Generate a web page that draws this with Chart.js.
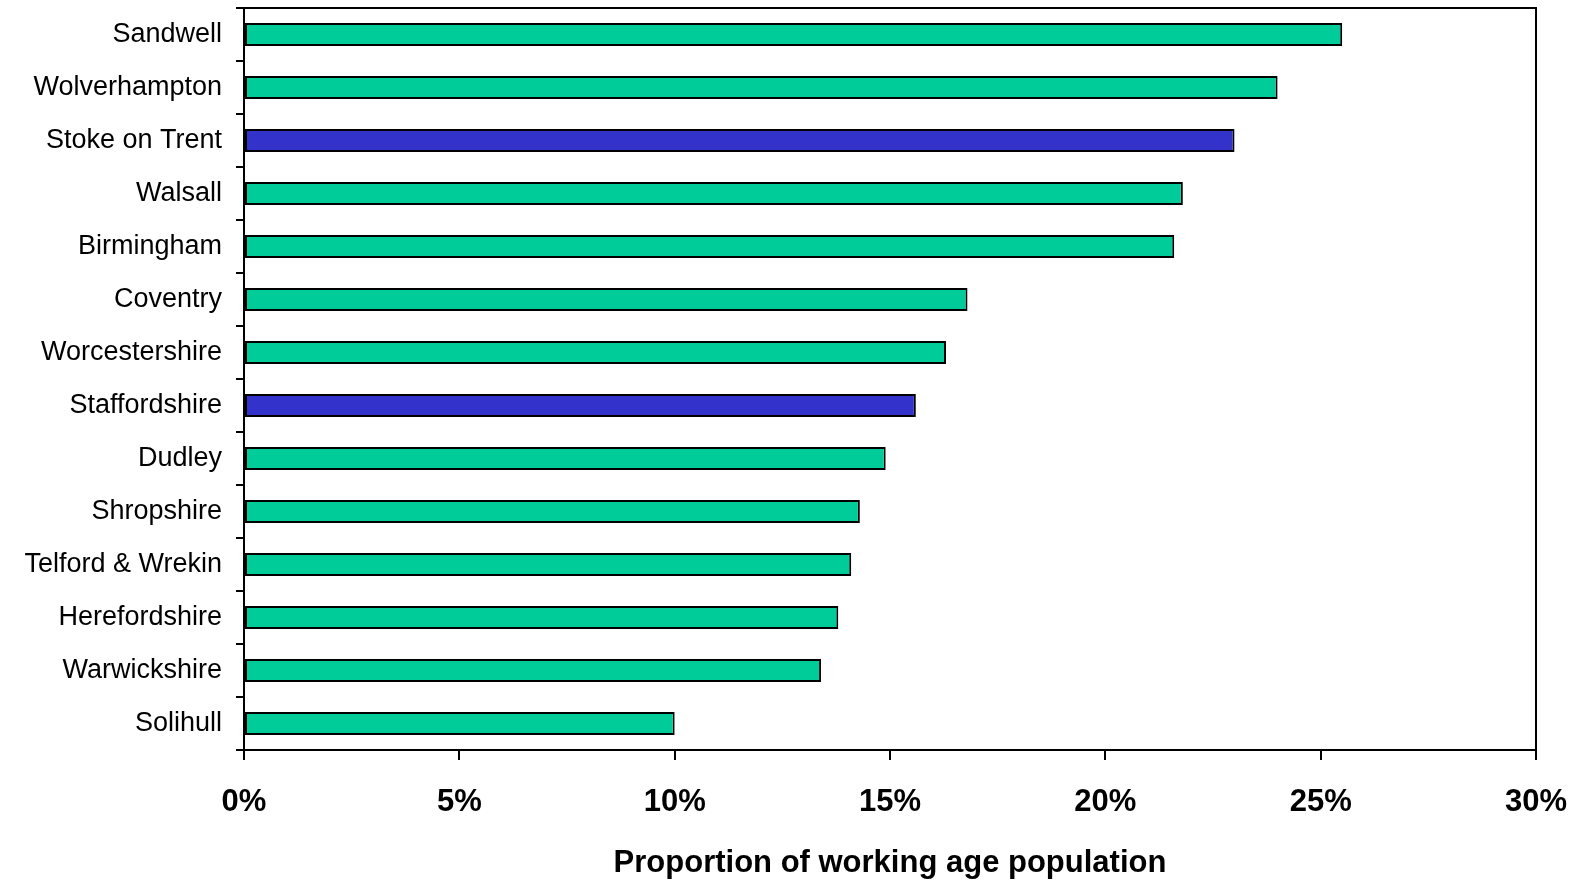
<!DOCTYPE html>
<html>
<head>
<meta charset="utf-8">
<script src="https://cdn.jsdelivr.net/npm/chart.js@4"></script>
<style>
  html, body { margin: 0; padding: 0; background: #fff; }
  #wrap { width: 1572px; height: 882px; }
</style>
</head>
<body>
<div id="wrap"><canvas id="chart" width="1572" height="882"></canvas></div>
<script>
// data
const areas = ['Sandwell', 'Wolverhampton', 'Stoke on Trent', 'Walsall', 'Birmingham', 'Coventry',
  'Worcestershire', 'Staffordshire', 'Dudley', 'Shropshire', 'Telford & Wrekin', 'Herefordshire',
  'Warwickshire', 'Solihull'];
const proportions = [25.5, 24.0, 23.0, 21.8, 21.6, 16.8, 16.3, 15.6, 14.9, 14.3, 14.1, 13.8, 13.4, 10.0];
const highlighted = ['Stoke on Trent', 'Staffordshire'];
const xTickValues = [0, 5, 10, 15, 20, 25, 30];
const xTitle = 'Proportion of working age population';

const GREEN = '#00CC99';
const BLUE = '#3333CC';

// draws the box round the plot area (top and right sides)
const frame = {
  id: 'frame',
  afterDraw(chart) {
    const { ctx, chartArea: a } = chart;
    ctx.save();
    ctx.strokeStyle = '#000';
    ctx.lineWidth = 2;
    ctx.beginPath();
    ctx.moveTo(a.left, a.top);
    ctx.lineTo(a.right, a.top);
    ctx.lineTo(a.right, a.bottom);
    ctx.stroke();
    ctx.restore();
  }
};

new Chart(document.getElementById('chart'), {
  type: 'bar',
  data: {
    labels: areas,
    datasets: [{
      data: proportions,
      backgroundColor: areas.map(a => highlighted.includes(a) ? BLUE : GREEN),
      borderColor: '#000',
      borderWidth: 2,
      borderSkipped: false,
      categoryPercentage: 1,
      barPercentage: 0.434
    }]
  },
  options: {
    indexAxis: 'y',
    responsive: false,
    animation: false,
    layout: { padding: { top: 8, right: 36, left: 0, bottom: 0 } },
    plugins: {
      legend: { display: false },
      tooltip: { enabled: false }
    },
    scales: {
      x: {
        min: 0,
        max: 30,
        afterFit(scale) {
          scale.height = 132;
          scale.paddingLeft = 0;
          scale.paddingRight = 0;
        },
        afterBuildTicks(scale) { scale.ticks = xTickValues.map(v => ({ value: v })); },
        border: { display: true, color: '#000', width: 2 },
        grid: { drawOnChartArea: false, drawTicks: true, tickLength: 10, color: '#000', lineWidth: 2 },
        ticks: {
          color: '#000',
          padding: 24,
          maxRotation: 0,
          font: { family: 'Liberation Sans, Arial, sans-serif', size: 31, weight: 'bold' },
          callback: v => v + '%'
        },
        title: {
          display: true,
          text: xTitle,
          color: '#000',
          padding: { top: 0, bottom: 0 },
          font: { family: 'Liberation Sans, Arial, sans-serif', size: 31, weight: 'bold' }
        }
      },
      y: {
        afterFit(scale) {
          scale.width = 244;
          scale.paddingTop = 0;
          scale.paddingBottom = 0;
        },
        border: { display: true, color: '#000', width: 2 },
        grid: { offset: true, drawOnChartArea: false, drawTicks: true, tickLength: 8, color: '#000', lineWidth: 2 },
        ticks: {
          color: '#000',
          padding: 14,
          font: { family: 'Liberation Sans, Arial, sans-serif', size: 27 }
        }
      }
    }
  },
  plugins: [frame]
});
</script>
</body>
</html>
